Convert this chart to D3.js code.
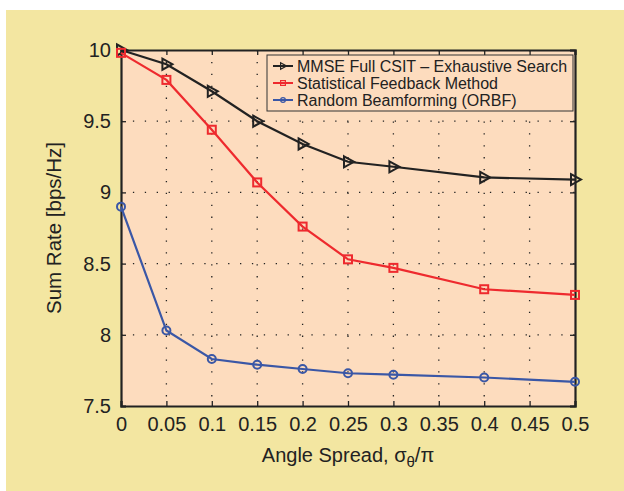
<!DOCTYPE html>
<html>
<head>
<meta charset="utf-8">
<script src="https://cdn.jsdelivr.net/npm/d3@7"></script>
<style>
  body { margin: 0; background: #fff; }
  text { font-family: "Liberation Sans", Arial, sans-serif; fill: #222; }
</style>
</head>
<body>
<div id="chart"></div>
<script>
const spread = [0, 0.05, 0.1, 0.15, 0.2, 0.25, 0.3, 0.4, 0.5];
const mmseFull = [10.0, 9.90, 9.71, 9.50, 9.34, 9.215, 9.18, 9.105, 9.09];
const statFeedback = [9.98, 9.79, 9.44, 9.07, 8.76, 8.53, 8.47, 8.32, 8.28];
const randomBf = [8.90, 8.03, 7.83, 7.79, 7.76, 7.73, 7.72, 7.70, 7.67];
const xTicks = [0, 0.05, 0.1, 0.15, 0.2, 0.25, 0.3, 0.35, 0.4, 0.45, 0.5];
const yTicks = [7.5, 8, 8.5, 9, 9.5, 10];
const seriesNames = ["MMSE Full CSIT \u2013 Exhaustive Search", "Statistical Feedback Method", "Random Beamforming (ORBF)"];

const W = 624, H = 491;
const margin = { top: 50, right: 49, bottom: 85, left: 121 };
const width = W - margin.left - margin.right;
const height = H - margin.top - margin.bottom;

const svg = d3.select("#chart").append("svg")
  .attr("width", W)
  .attr("height", H);

// outer yellow panel
svg.append("rect")
  .attr("x", 6).attr("y", 10)
  .attr("width", W - 6).attr("height", H - 10)
  .attr("fill", "#f3e6a1");

const g = svg.append("g")
  .attr("transform", `translate(${margin.left},${margin.top})`);

const x = d3.scaleLinear().domain([0, 0.5]).range([0, width]);
const y = d3.scaleLinear().domain([7.5, 10]).range([height, 0]);

g.append("rect")
  .attr("width", width).attr("height", height)
  .attr("fill", "#fddcbe");

// dotted grid
g.append("g").selectAll("line")
  .data(xTicks.slice(1, -1))
  .enter().append("line")
  .attr("x1", d => x(d)).attr("x2", d => x(d))
  .attr("y1", 0).attr("y2", height)
  .attr("stroke", "#222").attr("stroke-width", 1.3)
  .attr("stroke-dasharray", "1.3,10.6");

g.append("g").selectAll("line")
  .data(yTicks.slice(1, -1))
  .enter().append("line")
  .attr("y1", d => y(d)).attr("y2", d => y(d))
  .attr("x1", 0).attr("x2", width)
  .attr("stroke", "#222").attr("stroke-width", 1.3)
  .attr("stroke-dasharray", "1.3,10.6");

// axes with inward ticks
const fmtX = d => d3.format("~g")(d);
const xAxis = g.append("g")
  .attr("transform", `translate(0,${height})`)
  .call(d3.axisBottom(x).tickValues(xTicks).tickSize(-5).tickPadding(9).tickFormat(fmtX));
const xAxisTop = g.append("g")
  .call(d3.axisTop(x).tickValues(xTicks).tickSize(-5).tickFormat(""));
const yAxis = g.append("g")
  .call(d3.axisLeft(y).tickValues(yTicks).tickSize(-5).tickPadding(10).tickFormat(d3.format("~g")));
const yAxisRight = g.append("g")
  .attr("transform", `translate(${width},0)`)
  .call(d3.axisRight(y).tickValues(yTicks).tickSize(-5).tickFormat(""));

[xAxis, xAxisTop, yAxis, yAxisRight].forEach(a => {
  a.select(".domain").attr("stroke", "#222").attr("stroke-width", 2.2);
  a.selectAll(".tick line").attr("stroke", "#222").attr("stroke-width", 1.3);
  a.selectAll("text").style("font-size", "20px").attr("fill", "#222")
    .style("font-family", "'Liberation Sans', Arial, sans-serif");
});
xAxis.selectAll(".tick text").attr("dy", "0.8em");

// axis labels
g.append("text")
  .attr("x", width / 2)
  .attr("y", height + 56)
  .attr("text-anchor", "middle")
  .style("font-size", "20px")
  .html("Angle Spread, \u03c3<tspan dy='5' font-size='15px'>\u03b8</tspan><tspan dy='-5'>/\u03c0</tspan>");

g.append("text")
  .attr("transform", "rotate(-90)")
  .attr("x", -height / 2)
  .attr("y", -60)
  .attr("text-anchor", "middle")
  .style("font-size", "20.5px")
  .text("Sum Rate [bps/Hz]");

const line = d3.line().x((d, i) => x(spread[i])).y(d => y(d));

const series = [
  { name: seriesNames[0], values: mmseFull, color: "#222222", marker: "tri" },
  { name: seriesNames[1], values: statFeedback, color: "#ee2a2e", marker: "sq" },
  { name: seriesNames[2], values: randomBf, color: "#3a57a6", marker: "circ" }
];

function drawMarker(sel, type, color) {
  if (type === "tri") {
    sel.append("path").attr("d", "M-4,-5.5 L6,0 L-4,5.5 Z")
      .attr("fill", "none").attr("stroke", color).attr("stroke-width", 2);
  } else if (type === "sq") {
    sel.append("rect").attr("x", -4).attr("y", -4).attr("width", 8).attr("height", 8)
      .attr("fill", "none").attr("stroke", color).attr("stroke-width", 2);
  } else {
    sel.append("circle").attr("r", 4)
      .attr("fill", "none").attr("stroke", color).attr("stroke-width", 2);
  }
}

series.forEach(s => {
  g.append("path")
    .datum(s.values)
    .attr("fill", "none")
    .attr("stroke", s.color)
    .attr("stroke-width", 2.2)
    .attr("d", line);
  g.append("g").selectAll("g")
    .data(s.values)
    .enter().append("g")
    .attr("transform", (d, i) => `translate(${x(spread[i])},${y(d)})`)
    .each(function () { drawMarker(d3.select(this), s.marker, s.color); });
});

// legend
const legend = g.append("g").attr("transform", `translate(${146},${5})`);
legend.append("rect")
  .attr("width", 306).attr("height", 56)
  .attr("fill", "#fddcbe")
  .attr("stroke", "#333").attr("stroke-width", 1);
series.forEach((s, i) => {
  const row = legend.append("g").attr("transform", `translate(6,${11 + i * 17})`);
  row.append("line").attr("x1", 0).attr("x2", 20).attr("y1", 0).attr("y2", 0)
    .attr("stroke", s.color).attr("stroke-width", 2);
  const m = row.append("g").attr("transform", "translate(10,0) scale(0.6)");
  drawMarker(m, s.marker, s.color);
  row.append("text")
    .attr("x", 24).attr("y", 0).attr("dy", "0.35em")
    .style("font-size", "16px")
    .text(s.name);
});
</script>
</body>
</html>
